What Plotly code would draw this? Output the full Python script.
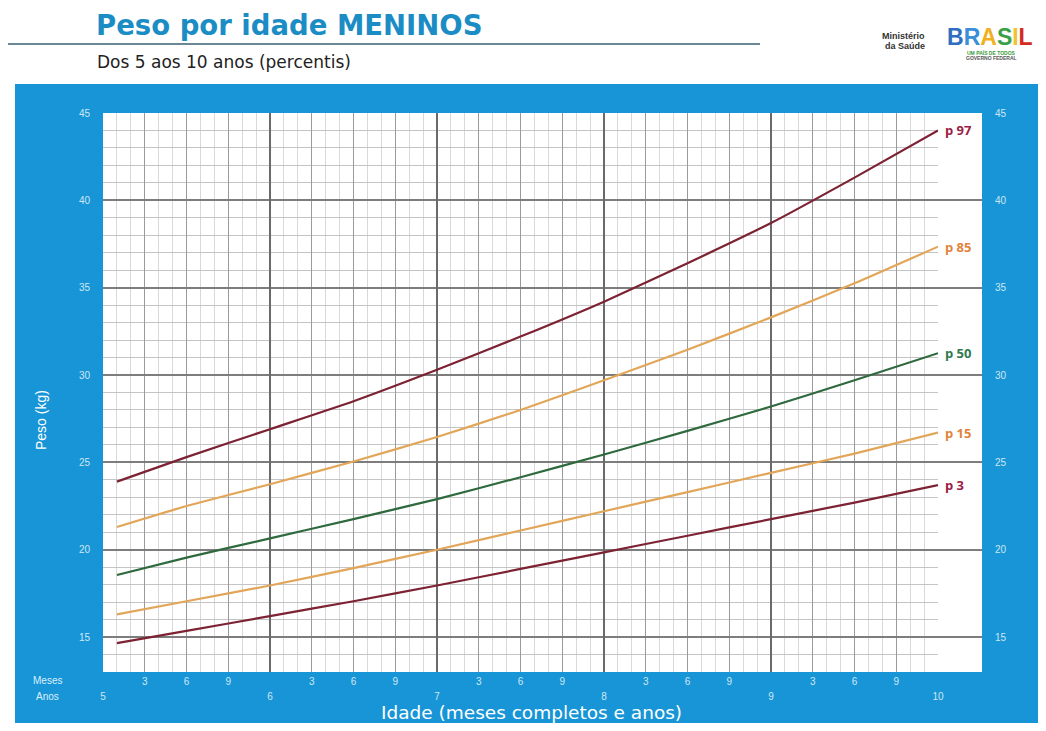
import plotly.graph_objects as go

# The page body has an 8px margin on every side; the figure is sized so that
# figure + margins fill the 1046x731 window exactly, and target page
# coordinates are shifted by that margin.
OFF = 8
W, H = 1046 - 2 * OFF, 731 - 2 * OFF


def px(x):
    return (x - OFF) / W


def py(y):
    return 1 - (y - OFF) / H


# ---------------- data ----------------
age_months = [61, 66, 72, 78, 84, 90, 96, 102, 108, 114, 120]
p97 = [23.9, 25.3, 26.9, 28.5, 30.3, 32.2, 34.2, 36.4, 38.7, 41.3, 44.0]
p85 = [21.3, 22.5, 23.75, 25.05, 26.45, 28.0, 29.7, 31.45, 33.3, 35.25, 37.35]
p50 = [18.55, 19.55, 20.65, 21.75, 22.9, 24.15, 25.45, 26.8, 28.2, 29.7, 31.25]
p15 = [16.3, 17.05, 17.95, 18.95, 20.0, 21.1, 22.2, 23.3, 24.4, 25.5, 26.7]
p3 = [14.65, 15.35, 16.2, 17.05, 17.95, 18.9, 19.85, 20.8, 21.75, 22.7, 23.7]

series_names = ["p 97", "p 85", "p 50", "p 15", "p 3"]
series_values = [p97, p85, p50, p15, p3]
line_colors = ["#7c2233", "#e2a659", "#2f6a3e", "#e2a659", "#7c2233"]
label_colors = ["#9b2046", "#e0843c", "#2f7a4f", "#e0843c", "#9b2046"]

year_ticks = [5, 6, 7, 8, 9, 10]
year_labels = ["5", "6", "7", "8", "9", "10"]
month_labels = ["3", "6", "9"]
weight_ticks = [15, 20, 25, 30, 35, 40, 45]
weight_labels = ["15", "20", "25", "30", "35", "40", "45"]

# derived tick positions
quarter_vals, quarter_text = [], []
for y0 in year_ticks[:-1]:
    for i, lab in enumerate(month_labels):
        quarter_vals.append(y0 + (i + 1) * 0.25)
        quarter_text.append(lab)
month_minor = [5 + m / 12 for m in range(1, 60) if m % 3 != 0]
age_years = [m / 12 for m in age_months]

# ---------------- figure ----------------
fig = go.Figure()

for name, vals, col in zip(series_names, series_values, line_colors):
    fig.add_trace(go.Scatter(
        x=age_years, y=vals, mode="lines", name=name,
        line=dict(color=col, width=2.2, shape="spline", smoothing=0.5),
        showlegend=False, hoverinfo="skip"))

# helper traces so the extra axes exist
fig.add_trace(go.Scatter(x=[], y=[], xaxis="x3", yaxis="y", showlegend=False))
fig.add_trace(go.Scatter(x=[], y=[], xaxis="x2", yaxis="y2", showlegend=False))

tick_font = dict(family="Liberation Sans, Arial", size=10, color="#cfe7f5")

xmain_dom = [px(103), px(938)]
x2_dom = [px(938), px(982)]
y_dom = [py(672), py(113)]

fig.update_layout(
    width=W, height=H,
    margin=dict(l=0, r=0, t=0, b=0),
    paper_bgcolor="white",
    plot_bgcolor="rgba(0,0,0,0)",
    xaxis=dict(
        domain=xmain_dom, range=[5, 10], anchor="y", automargin=False,
        tickmode="array", tickvals=quarter_vals, ticktext=quarter_text,
        tickfont=tick_font, ticks="", ticklabelstandoff=2,
        showgrid=True, gridcolor="#9a9a9a", gridwidth=1.4,
        zeroline=False, showline=False, fixedrange=True,
        minor=dict(tickmode="array", tickvals=month_minor, showgrid=True,
                   gridcolor="#d9d9d9", gridwidth=1, ticks=""),
    ),
    xaxis3=dict(
        overlaying="x", range=[5, 10], anchor="y", side="bottom", automargin=False,
        tickmode="array", tickvals=year_ticks, ticktext=year_labels,
        tickfont=tick_font, ticks="", ticklabelstandoff=17,
        showgrid=True, gridcolor="#6a6a6a", gridwidth=2,
        zeroline=False, showline=False, fixedrange=True,
    ),
    yaxis=dict(
        domain=y_dom, range=[13, 45], anchor="x", automargin=False,
        tickmode="array", tickvals=weight_ticks, ticktext=weight_labels,
        tickfont=tick_font, ticks="", ticklabelstandoff=12,
        showgrid=True, gridcolor="#7d7d7d", gridwidth=1.6,
        zeroline=False, showline=False, fixedrange=True,
        minor=dict(dtick=1, showgrid=True, gridcolor="#c4c4c4", gridwidth=1, ticks=""),
    ),
    xaxis2=dict(
        domain=x2_dom, range=[10, 10.263], anchor="y2", automargin=False,
        showticklabels=False, showgrid=False, zeroline=False, ticks="",
        fixedrange=True,
    ),
    yaxis2=dict(
        domain=y_dom, range=[13, 45], anchor="x2", side="right", automargin=False,
        tickmode="array", tickvals=weight_ticks, ticktext=weight_labels,
        tickfont=tick_font, ticks="", ticklabelstandoff=12,
        showgrid=True, gridcolor="#7d7d7d", gridwidth=1.6,
        zeroline=False, showline=False, fixedrange=True,
    ),
)

shapes = [
    # blue panel
    dict(type="rect", xref="paper", yref="paper", layer="below",
         x0=px(15), x1=1, y0=0, y1=py(84),
         fillcolor="#1795d6", line=dict(width=0)),
    # white chart area
    dict(type="rect", xref="paper", yref="paper", layer="below",
         x0=px(103), x1=px(982), y0=py(672), y1=py(113),
         fillcolor="white", line=dict(width=0)),
    # rule under title
    dict(type="line", xref="paper", yref="paper",
         x0=0, x1=px(760), y0=py(44), y1=py(44),
         line=dict(color="#6a8796", width=2)),
]
fig.update_layout(shapes=shapes)

ann = []
# curve labels at the end of each line
for name, vals, col in zip(series_names, series_values, label_colors):
    ann.append(dict(x=10, y=vals[-1], xref="x", yref="y", xanchor="left",
                    yanchor="middle", xshift=5, showarrow=False,
                    text=f"<b>{name}</b>",
                    font=dict(family="Open Sans, Liberation Sans", size=13, color=col)))

ann += [
    dict(x=px(94), y=py(25), xref="paper", yref="paper", xanchor="left",
         yanchor="middle", showarrow=False,
         text="<b>Peso por idade MENINOS</b>",
         font=dict(family="DejaVu Sans", size=27.5, color="#1b8cc4")),
    dict(x=px(95), y=py(62), xref="paper", yref="paper", xanchor="left",
         yanchor="middle", showarrow=False,
         text="Dos 5 aos 10 anos (percentis)",
         font=dict(family="DejaVu Sans", size=17, color="#222222")),
    dict(x=px(41), y=py(420), xref="paper", yref="paper", textangle=-90,
         xanchor="center", yanchor="middle", showarrow=False,
         text="Peso (kg)",
         font=dict(family="Liberation Sans, Arial", size=14, color="white")),
    dict(x=px(531), y=py(712), xref="paper", yref="paper",
         xanchor="center", yanchor="middle", showarrow=False,
         text="Idade (meses completos e anos)",
         font=dict(family="DejaVu Sans", size=18.5, color="white")),
    dict(x=px(47), y=py(680), xref="paper", yref="paper",
         xanchor="center", yanchor="middle", showarrow=False,
         text="Meses", font=dict(family="Liberation Sans, Arial", size=10, color="#dcefff")),
    dict(x=px(47), y=py(696), xref="paper", yref="paper",
         xanchor="center", yanchor="middle", showarrow=False,
         text="Anos", font=dict(family="Liberation Sans, Arial", size=10, color="#dcefff")),
    # logo
    dict(x=px(927), y=py(36), xref="paper", yref="paper",
         xanchor="right", yanchor="middle", showarrow=False,
         text="<b>Ministério</b>", font=dict(family="Liberation Sans, Arial", size=9, color="#333333")),
    dict(x=px(927), y=py(46), xref="paper", yref="paper",
         xanchor="right", yanchor="middle", showarrow=False,
         text="<b>da Saúde</b>", font=dict(family="Liberation Sans, Arial", size=9, color="#333333")),
    dict(x=px(990), y=py(37), xref="paper", yref="paper",
         xanchor="center", yanchor="middle", showarrow=False,
         text=("<b><span style='color:#2f6fc0'>B</span><span style='color:#3b8fd8'>R</span>"
               "<span style='color:#f0b020'>A</span><span style='color:#3aa048'>S</span>"
               "<span style='color:#f2c230'>I</span><span style='color:#d42a20'>L</span></b>"),
         font=dict(family="Liberation Sans, Arial", size=23, color="#2f6fc0")),
    dict(x=px(991), y=py(52), xref="paper", yref="paper",
         xanchor="center", yanchor="middle", showarrow=False,
         text="<b>UM PAÍS DE TODOS</b>",
         font=dict(family="Liberation Sans, Arial", size=5, color="#3a9a3a")),
    dict(x=px(991), y=py(58), xref="paper", yref="paper",
         xanchor="center", yanchor="middle", showarrow=False,
         text="<b>GOVERNO FEDERAL</b>",
         font=dict(family="Liberation Sans, Arial", size=5, color="#555555")),
]
fig.update_layout(annotations=ann)

fig.write_html("out.html")
